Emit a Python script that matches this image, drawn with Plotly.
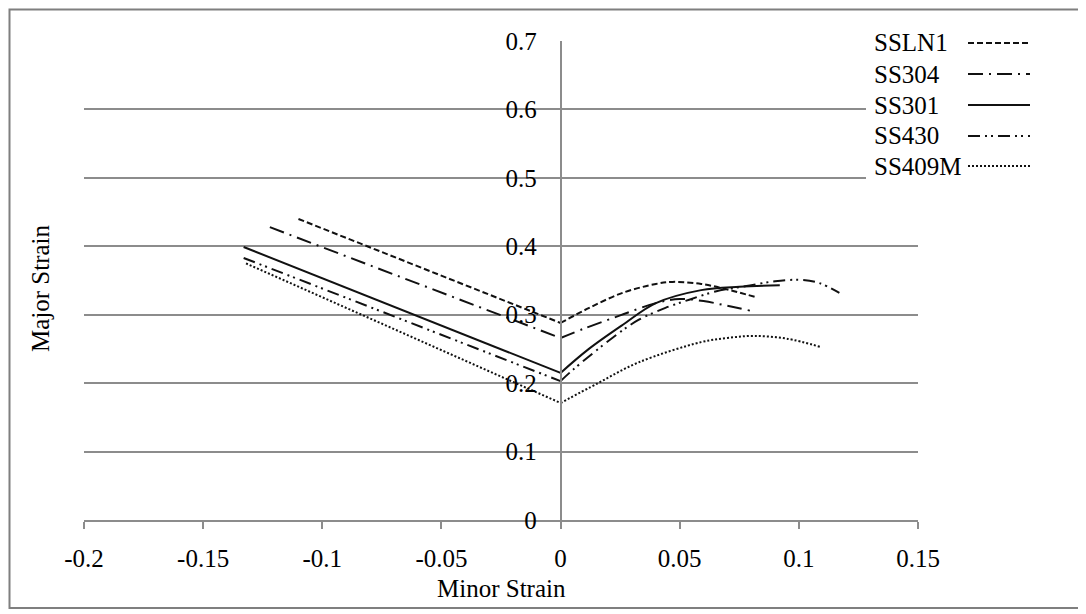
import plotly.graph_objects as go

# ---- data ----
series_names = ["SSLN1", "SS304", "SS301", "SS430", "SS409M"]

ssln1_x = [-0.110, 0.0, 0.012, 0.026, 0.040, 0.047, 0.059, 0.070, 0.0816]
ssln1_y = [0.440, 0.288, 0.310, 0.332, 0.345, 0.348, 0.345, 0.337, 0.326]

ss304_x = [-0.122, 0.0, 0.010, 0.025, 0.040, 0.050, 0.060, 0.070, 0.0795]
ss304_y = [0.428, 0.266, 0.280, 0.299, 0.317, 0.323, 0.320, 0.313, 0.306]

ss301_x = [-0.133, 0.0, 0.0115, 0.026, 0.040, 0.059, 0.075, 0.092]
ss301_y = [0.399, 0.215, 0.249, 0.285, 0.317, 0.336, 0.341, 0.343]

ss430_x = [-0.133, 0.0, 0.005, 0.0217, 0.0325, 0.044, 0.054, 0.065, 0.078, 0.090, 0.100, 0.108, 0.117]
ss430_y = [0.383, 0.203, 0.219, 0.266, 0.292, 0.310, 0.322, 0.334, 0.342, 0.349, 0.351, 0.347, 0.332]

ss409m_x = [-0.132, 0.0, 0.0157, 0.0325, 0.059, 0.070, 0.081, 0.095, 0.109]
ss409m_y = [0.375, 0.171, 0.200, 0.230, 0.260, 0.266, 0.269, 0.265, 0.253]

x_ticks = [-0.2, -0.15, -0.1, -0.05, 0, 0.05, 0.1, 0.15]
x_tick_labels = ["-0.2", "-0.15", "-0.1", "-0.05", "0", "0.05", "0.1", "0.15"]
y_ticks = [0, 0.1, 0.2, 0.3, 0.4, 0.5, 0.6, 0.7]
y_tick_labels = ["0", "0.1", "0.2", "0.3", "0.4", "0.5", "0.6", "0.7"]

x_title = "Minor Strain"
y_title = "Major Strain"

# ---- styles ----
FONT = "Liberation Serif, Times New Roman, serif"
FS = 25
LINE_C = "#111111"
GRID_C = "#8c8c8c"
dashes = ["6px,3px", "15px,6px,2px,6px", "solid", "12px,5px,2px,4px,2px,5px", "2px,2px"]
all_x = [ssln1_x, ss304_x, ss301_x, ss430_x, ss409m_x]
all_y = [ssln1_y, ss304_y, ss301_y, ss430_y, ss409m_y]

# page body has an 8px margin: lay out in screen pixels, then shift
OFF = 8
W, H = 1086, 614
PLOT_L, PLOT_R, PLOT_T, PLOT_B = 84, 918, 41, 520  # screen px of plot area
ML = PLOT_L - OFF
MT = PLOT_T - OFF
MR = W - (PLOT_R - OFF)
MB = H - (PLOT_B - OFF)
PW = PLOT_R - PLOT_L
PH = PLOT_B - PLOT_T
XMIN, XMAX = -0.2, 0.15


def px_to_paper_x(px):
    return (px - PLOT_L) / PW


def px_to_paper_y(py):
    return (PLOT_B - py) / PH


fig = go.Figure()

for name, xs, ys, dash in zip(series_names, all_x, all_y, dashes):
    k = xs.index(0.0)
    # left branch: straight segment
    fig.add_trace(go.Scatter(
        x=xs[:k + 1], y=ys[:k + 1], mode="lines", name=name, showlegend=False,
        line=dict(color=LINE_C, width=2, dash=dash),
    ))
    # right branch: smooth curve
    fig.add_trace(go.Scatter(
        x=xs[k:], y=ys[k:], mode="lines", name=name, showlegend=False,
        line=dict(color=LINE_C, width=2, dash=dash, shape="spline", smoothing=1.0),
    ))

fig.update_layout(
    width=W, height=H,
    margin=dict(l=ML, r=MR, t=MT, b=MB, autoexpand=False),
    paper_bgcolor="white", plot_bgcolor="white",
    font=dict(family=FONT, size=FS, color="#000000"),
    showlegend=False,
    xaxis=dict(
        range=[XMIN, XMAX], tickmode="array", tickvals=x_ticks, ticktext=x_tick_labels,
        showgrid=False, zeroline=False, showline=True, linecolor=GRID_C, linewidth=1.5,
        ticks="outside", ticklen=7, tickcolor=GRID_C, tickwidth=1.5,
        ticklabelstandoff=8, automargin=False,
    ),
    yaxis=dict(
        range=[0, 0.7001], tickmode="array", tickvals=y_ticks, ticktext=y_tick_labels,
        showgrid=True, gridcolor=GRID_C, gridwidth=1.5, zeroline=False,
        showline=True, linecolor=GRID_C, linewidth=1.5,
        anchor="free", position=(0 - XMIN) / (XMAX - XMIN),
        ticks="", ticklabelstandoff=18, automargin=False,
    ),
)

# axis titles
fig.add_annotation(text=x_title, xref="paper", yref="paper", x=0.5, y=px_to_paper_y(588),
                   showarrow=False, xanchor="center", yanchor="middle",
                   font=dict(family=FONT, size=FS))
fig.add_annotation(text=y_title, xref="paper", yref="paper", x=px_to_paper_x(40),
                   y=px_to_paper_y(288),
                   showarrow=False, xanchor="center", yanchor="middle", textangle=-90,
                   font=dict(family=FONT, size=FS))

# legend box (white, covering gridlines) and entries: name then line sample
fig.add_shape(type="rect", xref="paper", yref="paper", layer="above",
              x0=px_to_paper_x(866), x1=px_to_paper_x(1050),
              y0=px_to_paper_y(188), y1=px_to_paper_y(26),
              fillcolor="white", line=dict(width=0))
row_y = [43, 74, 105, 136, 166]
for name, dash, ry in zip(series_names, dashes, row_y):
    fig.add_annotation(text=name, xref="paper", yref="paper",
                       x=px_to_paper_x(872), y=px_to_paper_y(ry),
                       showarrow=False, xanchor="left", yanchor="middle",
                       font=dict(family=FONT, size=FS))
    fig.add_shape(type="line", xref="paper", yref="paper", layer="above",
                  x0=px_to_paper_x(968), x1=px_to_paper_x(1030),
                  y0=px_to_paper_y(ry), y1=px_to_paper_y(ry),
                  line=dict(color=LINE_C, width=2, dash=dash))

# outer chart frame (screen px 9..1079 x 9..608; page offset keeps it inside)
fig.add_shape(type="rect", xref="paper", yref="paper", layer="above",
              x0=px_to_paper_x(9.5), x1=px_to_paper_x(1079),
              y0=px_to_paper_y(608), y1=px_to_paper_y(9.5),
              fillcolor="rgba(0,0,0,0)", line=dict(color="#7f7f7f", width=2))

fig.write_html("out.html")
